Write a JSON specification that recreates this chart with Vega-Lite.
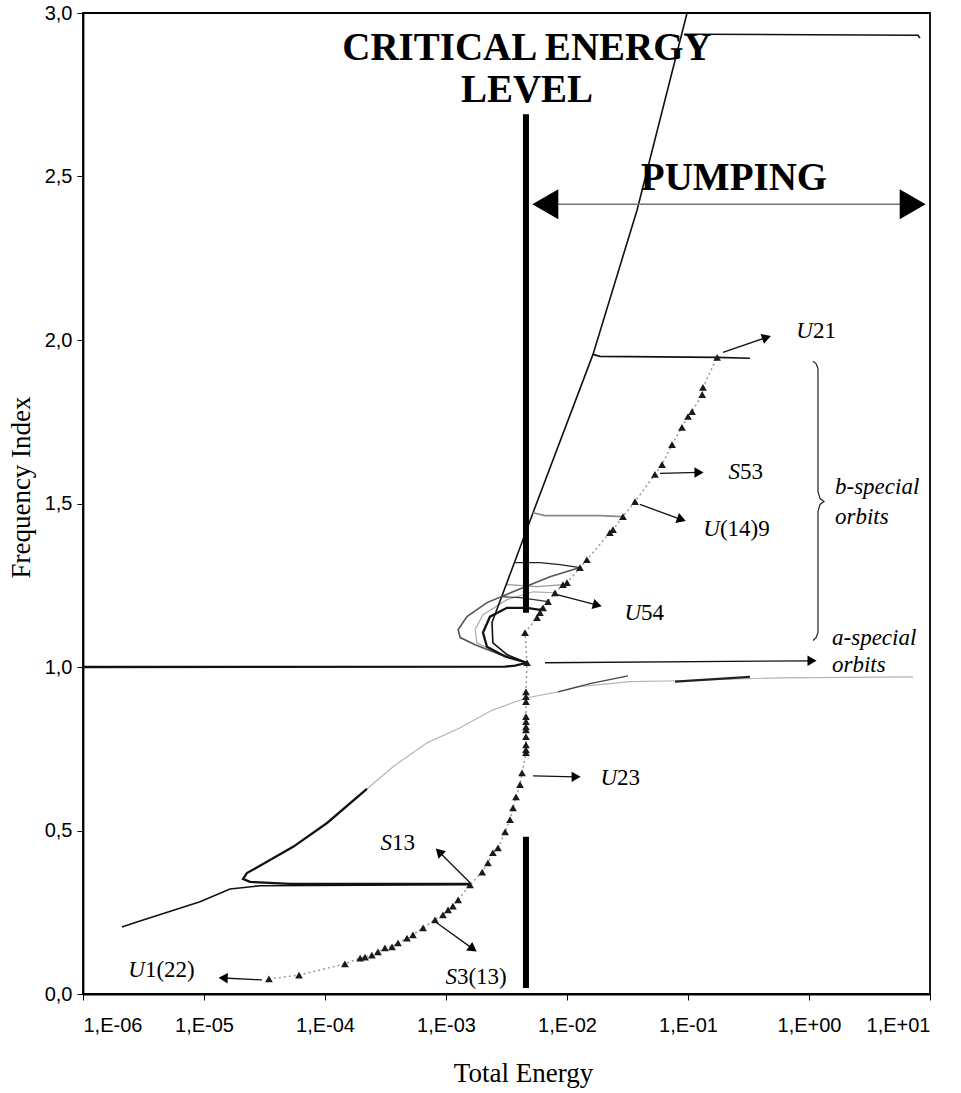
{
  "$schema": "https://vega.github.io/schema/vega-lite/v6.json",
  "autosize": "none",
  "width": 847,
  "height": 981,
  "padding": {"left": 83, "top": 13, "right": 31, "bottom": 99},
  "background": "white",
  "config": {
    "view": {"stroke": "black", "strokeWidth": 1.8},
    "axis": {"grid": false, "domainColor": "black", "domainWidth": 1.8, "tickColor": "black", "tickSize": 6, "labelColor": "black", "labelFont": "Liberation Sans", "labelFontSize": 20, "titleFont": "Liberation Serif", "titleFontWeight": "normal", "titleFontSize": 27, "titleColor": "black"}
  },
  "datasets": {
    "tri": [
      {"x": 3.44e-5, "y": 0.046}, {"x": 6.10e-5, "y": 0.058}, {"x": 1.46e-4, "y": 0.092}, {"x": 1.95e-4, "y": 0.110},
      {"x": 2.14e-4, "y": 0.113}, {"x": 2.44e-4, "y": 0.119}, {"x": 2.74e-4, "y": 0.129}, {"x": 3.13e-4, "y": 0.141},
      {"x": 3.58e-4, "y": 0.144}, {"x": 4.01e-4, "y": 0.156}, {"x": 4.76e-4, "y": 0.171}, {"x": 5.33e-4, "y": 0.181},
      {"x": 6.46e-4, "y": 0.202}, {"x": 8.11e-4, "y": 0.227}, {"x": 9.44e-4, "y": 0.242}, {"x": 1.04e-3, "y": 0.257},
      {"x": 1.14e-3, "y": 0.269}, {"x": 1.26e-3, "y": 0.288}, {"x": 1.58e-3, "y": 0.334}, {"x": 1.99e-3, "y": 0.373},
      {"x": 2.22e-3, "y": 0.401}, {"x": 2.44e-3, "y": 0.432}, {"x": 2.69e-3, "y": 0.447}, {"x": 3.08e-3, "y": 0.496},
      {"x": 3.38e-3, "y": 0.533}, {"x": 3.58e-3, "y": 0.569}, {"x": 3.79e-3, "y": 0.603}, {"x": 4.09e-3, "y": 0.640},
      {"x": 4.25e-3, "y": 0.676}, {"x": 4.58e-3, "y": 0.738}, {"x": 4.58e-3, "y": 0.747}, {"x": 4.58e-3, "y": 0.762},
      {"x": 4.58e-3, "y": 0.787}, {"x": 4.58e-3, "y": 0.808}, {"x": 4.58e-3, "y": 0.817}, {"x": 4.58e-3, "y": 0.833},
      {"x": 4.58e-3, "y": 0.848}, {"x": 4.58e-3, "y": 0.894}, {"x": 4.58e-3, "y": 0.909}, {"x": 4.58e-3, "y": 0.924},
      {"x": 4.67e-3, "y": 1.013}, {"x": 4.50e-3, "y": 1.105}, {"x": 5.65e-3, "y": 1.151}, {"x": 5.98e-3, "y": 1.166},
      {"x": 6.34e-3, "y": 1.181}, {"x": 6.97e-3, "y": 1.200}, {"x": 7.96e-3, "y": 1.227}, {"x": 9.27e-3, "y": 1.252},
      {"x": 1.00e-2, "y": 1.258}, {"x": 1.28e-2, "y": 1.304}, {"x": 1.46e-2, "y": 1.328}, {"x": 2.26e-2, "y": 1.411},
      {"x": 2.40e-2, "y": 1.420}, {"x": 2.90e-2, "y": 1.460}, {"x": 3.65e-2, "y": 1.506}, {"x": 5.33e-2, "y": 1.589},
      {"x": 6.10e-2, "y": 1.619}, {"x": 7.38e-2, "y": 1.680}, {"x": 8.91e-2, "y": 1.733}, {"x": 0.100, "y": 1.766},
      {"x": 0.108, "y": 1.781}, {"x": 0.131, "y": 1.833}, {"x": 0.133, "y": 1.855}, {"x": 0.174, "y": 1.947}
    ],
    "curves": [
      {"c": "h1", "x": 1e-6, "y": 1.0}, {"c": "h1", "x": 3.08e-3, "y": 1.001}, {"c": "h1", "x": 3.72e-3, "y": 1.004}, {"c": "h1", "x": 4.67e-3, "y": 1.013},
      {"c": "steep", "x": 4.67e-3, "y": 1.013}, {"c": "steep", "x": 3.19e-3, "y": 1.038}, {"c": "steep", "x": 2.44e-3, "y": 1.074}, {"c": "steep", "x": 2.40e-3, "y": 1.136}, {"c": "steep", "x": 2.69e-3, "y": 1.185}, {"c": "steep", "x": 5.24e-3, "y": 1.472}, {"c": "steep", "x": 1.64e-2, "y": 1.956}, {"c": "steep", "x": 3.79e-2, "y": 2.397}, {"c": "steep", "x": 0.0982, "y": 3.0},
      {"c": "top", "x": 0.0927, "y": 2.935}, {"c": "top", "x": 0.1256, "y": 2.935}, {"c": "top", "x": 7.96, "y": 2.932}, {"c": "top", "x": 8.26, "y": 2.923},
      {"c": "u21", "x": 1.64e-2, "y": 1.956}, {"c": "u21", "x": 1.87e-2, "y": 1.950}, {"c": "u21", "x": 0.174, "y": 1.947}, {"c": "u21", "x": 0.325, "y": 1.944},
      {"c": "b147", "x": 5.24e-3, "y": 1.472}, {"c": "b147", "x": 6.58e-3, "y": 1.463}, {"c": "b147", "x": 1.87e-2, "y": 1.463}, {"c": "b147", "x": 2.90e-2, "y": 1.460},
      {"c": "b130", "x": 3.65e-3, "y": 1.319}, {"c": "b130", "x": 5.98e-3, "y": 1.319}, {"c": "b130", "x": 8.75e-3, "y": 1.313}, {"c": "b130", "x": 1.28e-2, "y": 1.304},
      {"c": "loopA", "x": 4.67e-3, "y": 1.013}, {"c": "loopA", "x": 2.79e-3, "y": 1.038}, {"c": "loopA", "x": 1.74e-3, "y": 1.068}, {"c": "loopA", "x": 1.31e-3, "y": 1.090}, {"c": "loopA", "x": 1.26e-3, "y": 1.114}, {"c": "loopA", "x": 1.49e-3, "y": 1.154}, {"c": "loopA", "x": 2.18e-3, "y": 1.197}, {"c": "loopA", "x": 3.58e-3, "y": 1.230}, {"c": "loopA", "x": 7.24e-3, "y": 1.276}, {"c": "loopA", "x": 1.28e-2, "y": 1.304},
      {"c": "loopB", "x": 4.67e-3, "y": 1.013}, {"c": "loopB", "x": 2.54e-3, "y": 1.047}, {"c": "loopB", "x": 1.80e-3, "y": 1.074}, {"c": "loopB", "x": 1.74e-3, "y": 1.114}, {"c": "loopB", "x": 2.02e-3, "y": 1.160}, {"c": "loopB", "x": 3.19e-3, "y": 1.206}, {"c": "loopB", "x": 5.24e-3, "y": 1.230}, {"c": "loopB", "x": 7.96e-3, "y": 1.227},
      {"c": "loopD", "x": 4.67e-3, "y": 1.013}, {"c": "loopD", "x": 3.08e-3, "y": 1.032}, {"c": "loopD", "x": 2.18e-3, "y": 1.062}, {"c": "loopD", "x": 2.02e-3, "y": 1.105}, {"c": "loopD", "x": 2.31e-3, "y": 1.154}, {"c": "loopD", "x": 3.19e-3, "y": 1.181}, {"c": "loopD", "x": 4.67e-3, "y": 1.181}, {"c": "loopD", "x": 5.98e-3, "y": 1.175}, {"c": "loopD", "x": 6.34e-3, "y": 1.181},
      {"c": "loopE", "x": 2.90e-3, "y": 1.215}, {"c": "loopE", "x": 4.09e-3, "y": 1.212}, {"c": "loopE", "x": 6.97e-3, "y": 1.200},
      {"c": "loopF", "x": 3.13e-3, "y": 1.252}, {"c": "loopF", "x": 5.65e-3, "y": 1.246}, {"c": "loopF", "x": 9.27e-3, "y": 1.252},
      {"c": "s13line", "x": 2.10e-6, "y": 0.205}, {"c": "s13line", "x": 2.79e-6, "y": 0.220}, {"c": "s13line", "x": 9.27e-6, "y": 0.282}, {"c": "s13line", "x": 1.64e-5, "y": 0.321}, {"c": "s13line", "x": 2.90e-5, "y": 0.331}, {"c": "s13line", "x": 1.58e-3, "y": 0.334},
      {"c": "s13loop", "x": 1.58e-3, "y": 0.337}, {"c": "s13loop", "x": 5.14e-5, "y": 0.337}, {"c": "s13loop", "x": 2.40e-5, "y": 0.343}, {"c": "s13loop", "x": 2.10e-5, "y": 0.352}, {"c": "s13loop", "x": 2.26e-5, "y": 0.370}, {"c": "s13loop", "x": 2.90e-5, "y": 0.392}, {"c": "s13loop", "x": 5.45e-5, "y": 0.450}, {"c": "s13loop", "x": 1.04e-4, "y": 0.523}, {"c": "s13loop", "x": 2.22e-4, "y": 0.627},
      {"c": "sgray", "x": 2.22e-4, "y": 0.627}, {"c": "sgray", "x": 3.65e-4, "y": 0.695}, {"c": "sgray", "x": 6.97e-4, "y": 0.768}, {"c": "sgray", "x": 1.31e-3, "y": 0.814}, {"c": "sgray", "x": 2.44e-3, "y": 0.869}, {"c": "sgray", "x": 4.67e-3, "y": 0.906}, {"c": "sgray", "x": 8.43e-3, "y": 0.924}, {"c": "sgray", "x": 1.28e-2, "y": 0.940}, {"c": "sgray", "x": 3.32e-2, "y": 0.955}, {"c": "sgray", "x": 8.59e-2, "y": 0.958}, {"c": "sgray", "x": 0.575, "y": 0.967}, {"c": "sgray", "x": 7.24, "y": 0.970},
      {"c": "seg1", "x": 8.43e-3, "y": 0.924}, {"c": "seg1", "x": 1.55e-2, "y": 0.949}, {"c": "seg1", "x": 3.19e-2, "y": 0.973},
      {"c": "seg2", "x": 7.82e-2, "y": 0.955}, {"c": "seg2", "x": 0.325, "y": 0.970},
      {"c": "brace", "x": 1.079, "y": 1.935}, {"c": "brace", "x": 1.143, "y": 1.928}, {"c": "brace", "x": 1.186, "y": 1.913}, {"c": "brace", "x": 1.186, "y": 1.537}, {"c": "brace", "x": 1.233, "y": 1.515}, {"c": "brace", "x": 1.330, "y": 1.506}, {"c": "brace", "x": 1.233, "y": 1.497}, {"c": "brace", "x": 1.186, "y": 1.475}, {"c": "brace", "x": 1.186, "y": 1.105}, {"c": "brace", "x": 1.143, "y": 1.090}, {"c": "brace", "x": 1.079, "y": 1.081}
    ],
    "bars": [{"x": 4.58e-3, "y": 2.69, "y2": 1.166}, {"x": 4.58e-3, "y": 0.481, "y2": 0.018}],
    "pump": [{"x": 6.62e-3, "x2": 7.19, "y": 2.415}],
    "pumpheads": [{"side": "L", "x": 6.62e-3, "y": 2.415}, {"side": "R", "x": 7.19, "y": 2.415}],
    "arrows": [
      {"id": "U21", "x": 0.1945, "y": 1.962}, {"id": "U21", "x": 0.446, "y": 2.008},
      {"id": "S53", "x": 0.0587, "y": 1.592}, {"id": "S53", "x": 0.1233, "y": 1.595},
      {"id": "U149", "x": 0.0401, "y": 1.497}, {"id": "U149", "x": 0.0883, "y": 1.451},
      {"id": "U54", "x": 8.26e-3, "y": 1.221}, {"id": "U54", "x": 1.78e-2, "y": 1.189},
      {"id": "aspec", "x": 6.58e-3, "y": 1.013}, {"id": "aspec", "x": 1.06, "y": 1.019},
      {"id": "U23", "x": 5.24e-3, "y": 0.667}, {"id": "U23", "x": 1.19e-2, "y": 0.664},
      {"id": "S13", "x": 1.58e-3, "y": 0.340}, {"id": "S13", "x": 8.75e-4, "y": 0.435},
      {"id": "S313", "x": 8.43e-4, "y": 0.217}, {"id": "S313", "x": 1.67e-3, "y": 0.138},
      {"id": "U122", "x": 3.01e-5, "y": 0.043}, {"id": "U122", "x": 1.44e-5, "y": 0.049}
    ],
    "heads": [
      {"id": "U21", "x": 0.446, "y": 2.008}, {"id": "S53", "x": 0.1233, "y": 1.595}, {"id": "U149", "x": 0.0883, "y": 1.451},
      {"id": "U54", "x": 1.78e-2, "y": 1.189}, {"id": "aspec", "x": 1.06, "y": 1.019}, {"id": "U23", "x": 1.19e-2, "y": 0.664},
      {"id": "S13", "x": 8.75e-4, "y": 0.435}, {"id": "S313", "x": 1.67e-3, "y": 0.138}, {"id": "U122", "x": 1.44e-5, "y": 0.049}
    ],
    "labels": [
      {"l": "U", "n": "21", "x": 1.079, "y": 2.026}, {"l": "S", "n": "53", "x": 0.269, "y": 1.595},
      {"l": "U", "n": "(14)9", "x": 0.1837, "y": 1.423}, {"l": "U", "n": "54", "x": 0.0409, "y": 1.166},
      {"l": "U", "n": "23", "x": 0.0259, "y": 0.661}, {"l": "S", "n": "13", "x": 3.58e-4, "y": 0.462},
      {"l": "S", "n": "3(13)", "x": 1.23e-3, "y": 0.052}, {"l": "U", "n": "1(22)", "x": 3.25e-6, "y": 0.073}
    ],
    "notes": [
      {"t": "b-special", "x": 1.64, "y": 1.549}, {"t": "orbits", "x": 1.64, "y": 1.460},
      {"t": "a-special", "x": 1.55, "y": 1.090}, {"t": "orbits", "x": 1.55, "y": 1.007}
    ],
    "titles": [
      {"t": "CRITICAL ENERGY", "x": 4.67e-3, "y": 2.856}, {"t": "LEVEL", "x": 4.67e-3, "y": 2.728}, {"t": "PUMPING", "x": 0.240, "y": 2.458}
    ]
  },
  "encoding": {
    "x": {"field": "x", "type": "quantitative", "title": "Total Energy",
      "scale": {"type": "log", "domain": [1e-6, 10], "nice": false},
      "axis": {"values": [1e-6, 1e-5, 1e-4, 1e-3, 1e-2, 1e-1, 1, 10], "labelPadding": 15, "titleX": 440, "titleY": 79, "titleAlign": "center", "titleBaseline": "middle",
        "labelExpr": "'1,E' + (round(log(datum.value)/LN10) < 0 ? '-' : '+') + format(abs(round(log(datum.value)/LN10)), '02d')"}},
    "y": {"field": "y", "type": "quantitative", "title": "Frequency Index",
      "scale": {"domain": [0, 3], "nice": false, "zero": false},
      "axis": {"values": [0, 0.5, 1, 1.5, 2, 2.5, 3], "labelPadding": 5, "titleX": -62, "titleY": 474, "titleBaseline": "middle",
        "labelExpr": "replace(format(datum.value, '.1f'), '.', ',')"}}
  },
  "layer": [
    {"data": {"name": "curves"}, "transform": [{"filter": {"field": "c", "oneOf": ["sgray", "b130", "loopB", "loopE", "loopF", "seg1", "brace"]}}],
      "mark": {"type": "line", "strokeWidth": 1.2},
      "encoding": {"order": {"value": null}, "color": {"field": "c", "type": "nominal", "legend": null,
        "scale": {"domain": ["h1", "steep", "top", "u21", "b147", "b130", "loopA", "loopB", "loopD", "loopE", "loopF", "s13line", "s13loop", "sgray", "seg1", "seg2", "brace"],
          "range": ["#111111", "#111111", "#111111", "#111111", "#888888", "#222222", "#555555", "#aaaaaa", "#111111", "#333333", "#999999", "#111111", "#111111", "#b5b5b5", "#444444", "#222222", "#222222"]}}}},
    {"data": {"name": "curves"}, "transform": [{"filter": {"field": "c", "oneOf": ["steep", "top", "u21", "s13line", "loopA", "b147"]}}],
      "mark": {"type": "line", "strokeWidth": 1.6},
      "encoding": {"order": {"value": null}, "color": {"field": "c", "type": "nominal", "legend": null}}},
    {"data": {"name": "curves"}, "transform": [{"filter": {"field": "c", "oneOf": ["h1", "loopD", "s13loop", "seg2"]}}],
      "mark": {"type": "line", "strokeWidth": 2.3},
      "encoding": {"order": {"value": null}, "color": {"field": "c", "type": "nominal", "legend": null}}},
    {"data": {"name": "tri"}, "mark": {"type": "line", "color": "#9a9a9a", "strokeWidth": 1.5, "strokeDash": [2, 3]}, "encoding": {"order": {"value": null}}},
    {"data": {"name": "tri"}, "mark": {"type": "point", "shape": "triangle-up", "filled": true, "size": 60, "color": "#1a1a1a", "opacity": 1}},
    {"data": {"name": "bars"}, "mark": {"type": "rule", "strokeWidth": 6, "color": "black"}, "encoding": {"y2": {"field": "y2"}}},
    {"data": {"name": "pump"}, "mark": {"type": "rule", "strokeWidth": 1.5, "color": "#777777"}, "encoding": {"x2": {"field": "x2"}}},
    {"data": {"name": "pumpheads"}, "mark": {"type": "point", "filled": true, "size": 900, "color": "black", "opacity": 1},
      "encoding": {"shape": {"field": "side", "type": "nominal", "legend": null, "scale": {"domain": ["L", "R"], "range": ["triangle-left", "triangle-right"]}}}},
    {"data": {"name": "arrows"}, "mark": {"type": "line", "color": "#111111", "strokeWidth": 1.3}, "encoding": {"detail": {"field": "id"}, "order": {"value": null}}},
    {"data": {"name": "heads"}, "transform": [{"filter": {"field": "id", "oneOf": ["S53", "aspec", "U23"]}}], "mark": {"type": "point", "shape": "triangle-right", "filled": true, "size": 110, "color": "black", "opacity": 1, "angle": 0}},
    {"data": {"name": "heads"}, "transform": [{"filter": {"field": "id", "equal": "U21"}}], "mark": {"type": "point", "shape": "triangle-right", "filled": true, "size": 110, "color": "black", "opacity": 1, "angle": 341}},
    {"data": {"name": "heads"}, "transform": [{"filter": {"field": "id", "equal": "U149"}}], "mark": {"type": "point", "shape": "triangle-right", "filled": true, "size": 110, "color": "black", "opacity": 1, "angle": 20}},
    {"data": {"name": "heads"}, "transform": [{"filter": {"field": "id", "equal": "U54"}}], "mark": {"type": "point", "shape": "triangle-right", "filled": true, "size": 110, "color": "black", "opacity": 1, "angle": 15}},
    {"data": {"name": "heads"}, "transform": [{"filter": {"field": "id", "equal": "S13"}}], "mark": {"type": "point", "shape": "triangle-right", "filled": true, "size": 110, "color": "black", "opacity": 1, "angle": 225}},
    {"data": {"name": "heads"}, "transform": [{"filter": {"field": "id", "equal": "S313"}}], "mark": {"type": "point", "shape": "triangle-right", "filled": true, "size": 110, "color": "black", "opacity": 1, "angle": 35}},
    {"data": {"name": "heads"}, "transform": [{"filter": {"field": "id", "equal": "U122"}}], "mark": {"type": "point", "shape": "triangle-right", "filled": true, "size": 110, "color": "black", "opacity": 1, "angle": 182}},
    {"data": {"name": "labels"}, "mark": {"type": "text", "font": "Liberation Serif", "fontSize": 23, "fontStyle": "italic", "align": "right", "baseline": "middle", "color": "black"}, "encoding": {"text": {"field": "l"}}},
    {"data": {"name": "labels"}, "mark": {"type": "text", "font": "Liberation Serif", "fontSize": 23, "align": "left", "baseline": "middle", "color": "black"}, "encoding": {"text": {"field": "n"}}},
    {"data": {"name": "notes"}, "mark": {"type": "text", "font": "Liberation Serif", "fontSize": 23, "fontStyle": "italic", "align": "left", "baseline": "middle", "color": "black"}, "encoding": {"text": {"field": "t"}}},
    {"data": {"name": "titles"}, "mark": {"type": "text", "font": "Liberation Serif", "fontSize": 39, "fontWeight": "bold", "align": "center", "baseline": "alphabetic", "color": "black"}, "encoding": {"text": {"field": "t"}}}
  ]
}
